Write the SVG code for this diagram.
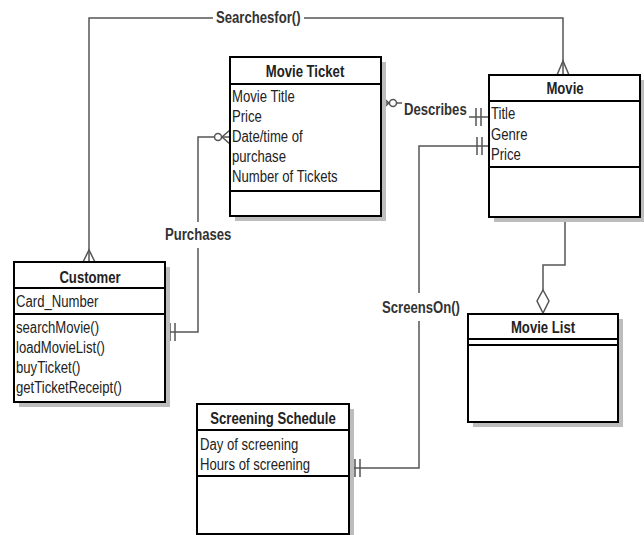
<svg xmlns="http://www.w3.org/2000/svg" width="644" height="535" viewBox="0 0 644 535">
<defs>
<style>
.shadow{fill:#bdbdbd}
.box{fill:#fff;stroke:#000;stroke-width:2}
.sep{stroke:#000;stroke-width:2}
.hdr{font-family:"Liberation Sans Narrow","Liberation Sans",Arial,sans-serif;font-size:16px;font-weight:bold;fill:#222;text-anchor:middle}
.att{font-family:"Liberation Sans Narrow","Liberation Sans",Arial,sans-serif;font-size:16px;fill:#222}
.lbl{font-family:"Liberation Sans Narrow","Liberation Sans",Arial,sans-serif;font-size:16px;font-weight:bold;fill:#333}
.con{fill:none;stroke:#555;stroke-width:1.5}
</style>
</defs>
<rect width="644" height="535" fill="#fff"/>

<g id="connectors">
  <!-- Searchesfor -->
  <path class="con" d="M89,262 V18 H213 M304,18 H563 V75"/>
  <path class="con" d="M83,262 L89,250 L95,262"/>
  <path class="con" d="M557,75 L563,61 L569,75"/>
  <text class="lbl" transform="translate(216,23) scale(0.82,1)">Searchesfor()</text>
  <!-- Describes -->
  <path class="con" d="M381,103 H402 M469,117 H489"/>
  <path class="con" d="M381,96 L389,103 L381,110"/>
  <circle cx="393" cy="103" r="3.5" fill="#fff" stroke="#555" stroke-width="1.5"/>
  <path class="con" d="M476,108 V126 M481,108 V126"/>
  <text class="lbl" transform="translate(404,115) scale(0.82,1)">Describes</text>
  <!-- Purchases -->
  <path class="con" d="M165,332 H198 V248 M198,222 V137 H230"/>
  <path class="con" d="M230,130 L222,137 L230,144"/>
  <circle cx="218" cy="137" r="3.5" fill="#fff" stroke="#555" stroke-width="1.5"/>
  <path class="con" d="M170,323 V341 M175,323 V341"/>
  <text class="lbl" transform="translate(165,240) scale(0.82,1)">Purchases</text>
  <!-- ScreensOn -->
  <path class="con" d="M489,146 H419 V293 M419,321 V468 H349"/>
  <path class="con" d="M477,137 V155 M482,137 V155"/>
  <path class="con" d="M355,459 V477 M360,459 V477"/>
  <text class="lbl" transform="translate(382,313) scale(0.82,1)">ScreensOn()</text>
  <!-- Movie to Movie List aggregation -->
  <path class="con" d="M565,217 V265 H543 V290"/>
  <path d="M543,290 L549,301 L543,313 L537,301 Z" fill="#fff" stroke="#555" stroke-width="1.5"/>
</g>

<g id="movie-ticket">
  <rect class="shadow" x="235" y="62" width="151" height="159"/>
  <rect class="box" x="230" y="57" width="151" height="159"/>
  <line class="sep" x1="230" y1="84" x2="381" y2="84"/>
  <line class="sep" x1="230" y1="191" x2="381" y2="191"/>
  <text class="hdr" transform="translate(305,77) scale(0.82,1)">Movie Ticket</text>
  <text class="att" transform="translate(232,102) scale(0.82,1)">Movie Title</text>
  <text class="att" transform="translate(232,122) scale(0.82,1)">Price</text>
  <text class="att" transform="translate(232,142) scale(0.82,1)">Date/time of</text>
  <text class="att" transform="translate(232,162) scale(0.82,1)">purchase</text>
  <text class="att" transform="translate(232,182) scale(0.82,1)">Number of Tickets</text>
</g>

<g id="movie">
  <rect class="shadow" x="494" y="80" width="151" height="142"/>
  <rect class="box" x="489" y="75" width="151" height="142"/>
  <line class="sep" x1="489" y1="101" x2="640" y2="101"/>
  <line class="sep" x1="489" y1="167" x2="640" y2="167"/>
  <text class="hdr" transform="translate(565,94) scale(0.82,1)">Movie</text>
  <text class="att" transform="translate(491,119) scale(0.82,1)">Title</text>
  <text class="att" transform="translate(491,140) scale(0.82,1)">Genre</text>
  <text class="att" transform="translate(491,160) scale(0.82,1)">Price</text>
</g>

<g id="customer">
  <rect class="shadow" x="19" y="267" width="151" height="140"/>
  <rect class="box" x="14" y="262" width="151" height="140"/>
  <line class="sep" x1="14" y1="288" x2="165" y2="288"/>
  <line class="sep" x1="14" y1="314" x2="165" y2="314"/>
  <text class="hdr" transform="translate(90,283) scale(0.82,1)">Customer</text>
  <text class="att" transform="translate(16,307) scale(0.82,1)">Card_Number</text>
  <text class="att" transform="translate(16,333) scale(0.82,1)">searchMovie()</text>
  <text class="att" transform="translate(16,353) scale(0.82,1)">loadMovieList()</text>
  <text class="att" transform="translate(16,373) scale(0.82,1)">buyTicket()</text>
  <text class="att" transform="translate(16,393) scale(0.82,1)">getTicketReceipt()</text>
</g>

<g id="movie-list">
  <rect class="shadow" x="473" y="319" width="150" height="108"/>
  <rect class="box" x="468" y="314" width="150" height="108"/>
  <line class="sep" x1="468" y1="339" x2="618" y2="339"/>
  <line class="sep" x1="468" y1="345" x2="618" y2="345"/>
  <text class="hdr" transform="translate(543,333) scale(0.82,1)">Movie List</text>
</g>

<g id="screening-schedule">
  <rect class="shadow" x="202" y="409" width="152" height="130"/>
  <rect class="box" x="197" y="404" width="152" height="130"/>
  <line class="sep" x1="197" y1="430" x2="349" y2="430"/>
  <line class="sep" x1="197" y1="476" x2="349" y2="476"/>
  <text class="hdr" transform="translate(273,424) scale(0.82,1)">Screening Schedule</text>
  <text class="att" transform="translate(200,450) scale(0.82,1)">Day of screening</text>
  <text class="att" transform="translate(200,470) scale(0.82,1)">Hours of screening</text>
</g>
</svg>
